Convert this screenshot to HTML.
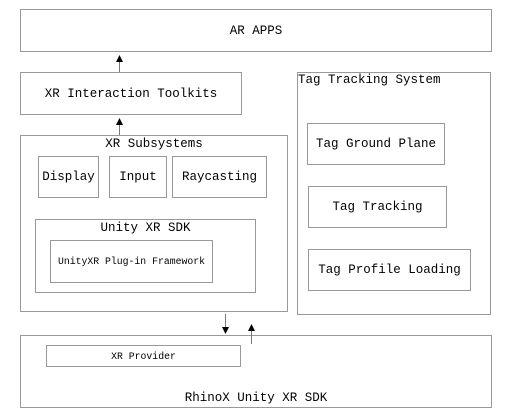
<!DOCTYPE html>
<html><head><meta charset="utf-8"><style>
body{margin:0;width:508px;height:417px;background:#fff;position:relative;overflow:hidden;font-family:"Liberation Mono",monospace;font-size:12.5px;color:#000}
.b{position:absolute;border:1px solid #999;box-sizing:border-box;background:#fff}
.c{display:flex;align-items:center;justify-content:center}
.t{position:absolute;white-space:nowrap}
</style></head><body>
<div class="b c" style="left:20px;top:9px;width:472px;height:43px">AR APPS</div>
<div class="b c" style="left:20px;top:72px;width:222px;height:43px">XR Interaction Toolkits</div>
<div class="b" style="left:20px;top:135px;width:268px;height:177px"></div>
<div class="t" style="left:20px;width:268px;text-align:center;top:137px">XR Subsystems</div>
<div class="b c" style="left:38px;top:156px;width:61px;height:42px">Display</div>
<div class="b c" style="left:109px;top:156px;width:58px;height:42px">Input</div>
<div class="b c" style="left:172px;top:156px;width:95px;height:42px">Raycasting</div>
<div class="b" style="left:35px;top:219px;width:221px;height:74px"></div>
<div class="t" style="left:35px;width:221px;text-align:center;top:221px">Unity XR SDK</div>
<div class="b c" style="left:50px;top:240px;width:163px;height:43px;font-size:9.8px">UnityXR Plug-in Framework</div>
<div class="b" style="left:297px;top:72px;width:194px;height:243px"></div>
<div class="t" style="left:298px;top:73px">Tag Tracking System</div>
<div class="b c" style="left:307px;top:123px;width:138px;height:42px">Tag Ground Plane</div>
<div class="b c" style="left:308px;top:186px;width:139px;height:42px">Tag Tracking</div>
<div class="b c" style="left:308px;top:249px;width:163px;height:42px">Tag Profile Loading</div>
<div class="b" style="left:20px;top:335px;width:472px;height:73px"></div>
<div class="b c" style="left:46px;top:345px;width:195px;height:22px;font-size:9.8px">XR Provider</div>
<div class="t" style="left:20px;width:472px;text-align:center;top:391px">RhinoX Unity XR SDK</div>
<svg width="508" height="417" style="position:absolute;left:0;top:0" fill="#000" stroke="#777">
<line x1="119.5" y1="60" x2="119.5" y2="72"/><polygon points="116,62 123,62 119.5,55" stroke="none"/>
<line x1="119.5" y1="123" x2="119.5" y2="135"/><polygon points="116,125 123,125 119.5,118" stroke="none"/>
<line x1="225.5" y1="314" x2="225.5" y2="327"/><polygon points="222,327 229,327 225.5,334" stroke="none"/>
<line x1="251.5" y1="331" x2="251.5" y2="344"/><polygon points="248,331 255,331 251.5,324" stroke="none"/>
</svg>
</body></html>
